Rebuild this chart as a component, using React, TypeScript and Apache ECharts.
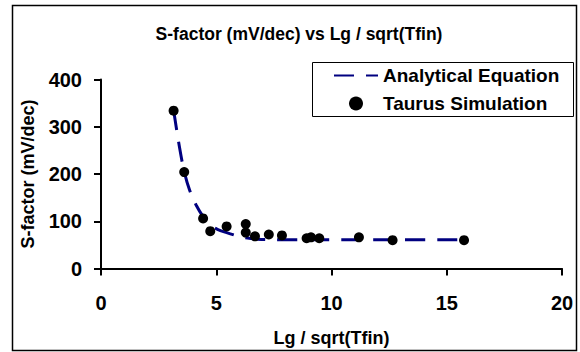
import React, { useEffect, useRef } from "react";
import * as echarts from "echarts";

const titleText = "S-factor (mV/dec) vs Lg / sqrt(Tfin)";
const xName = "Lg / sqrt(Tfin)";
const yName = "S-factor (mV/dec)";
const seriesNames = ["Analytical Equation", "Taurus Simulation"];

// Analytical equation curve
const curveX = [3.15, 3.4, 3.61, 3.85, 4.12, 4.43, 4.74, 5.05, 5.45, 5.85, 6.28, 6.8, 7.5, 9, 11, 13, 15.75];
const curveY = [335, 258, 205, 165, 135, 110, 92, 83, 76, 70, 65, 62, 61, 61, 61, 61, 61];

// Taurus simulation points
const simX = [3.15, 3.61, 4.43, 4.74, 5.45, 6.28, 6.28, 6.68, 7.28, 7.85, 8.92, 9.11, 9.47, 11.19, 12.65, 15.75];
const simY = [334, 204, 106, 79, 89, 94, 76, 68, 72, 70, 64, 66, 64, 66, 60, 60];

const xTicks = { min: 0, max: 20, interval: 5 };
const yTicks = { min: 0, max: 400, interval: 100 };

const FONT = "'Liberation Sans', Arial, sans-serif";

export default function App() {
  const ref = useRef<HTMLDivElement>(null);
  useEffect(() => {
    if (!ref.current) return;
    const chart = echarts.init(ref.current, null, { renderer: "svg" });
    const axisCommon = {
      axisLine: { show: true, onZero: false, lineStyle: { color: "#000", width: 2 } },
      axisTick: { show: true, length: 7, lineStyle: { color: "#000", width: 2 } },
      splitLine: { show: false },
      nameLocation: "middle" as const,
      nameTextStyle: { fontFamily: FONT, fontWeight: "bold" as const, fontSize: 18, color: "#000" },
      axisLabel: { fontFamily: FONT, fontWeight: "bold" as const, fontSize: 20, color: "#000" },
    };
    chart.setOption({
      animation: false,
      backgroundColor: "#fff",
      title: {
        text: titleText,
        left: 294,
        textAlign: "center",
        top: 20,
        textStyle: { fontFamily: FONT, fontWeight: "bold", fontSize: 17.5, color: "#000" },
      },
      graphic: [
        {
          type: "rect",
          shape: { x: 12.5, y: 5.5, width: 564, height: 345 },
          style: { fill: "none", stroke: "#000", lineWidth: 1.5 },
          z: 100,
        },
        {
          type: "rect",
          shape: { x: 312.5, y: 62.5, width: 261, height: 54 },
          style: { fill: "#fff", stroke: "#000", lineWidth: 1 },
          z: 5,
        },
      ],
      legend: {
        orient: "vertical",
        left: 312,
        top: 62,
        padding: [4, 0, 0, 21],
        itemWidth: 44,
        itemHeight: 14,
        itemGap: 9,
        z: 10,
        textStyle: { fontFamily: FONT, fontWeight: "bold", fontSize: 19, color: "#000" },
        data: [
          { name: seriesNames[0], itemStyle: { opacity: 0 } },
          { name: seriesNames[1], icon: "circle" },
        ],
      },
      grid: { left: 101, right: 18, top: 79.5, bottom: 83.5 },
      xAxis: {
        type: "value",
        ...axisCommon,
        min: xTicks.min,
        max: xTicks.max,
        interval: xTicks.interval,
        name: xName,
        nameGap: 60,
        axisLabel: { ...axisCommon.axisLabel, margin: 24 },
      },
      yAxis: {
        type: "value",
        ...axisCommon,
        min: yTicks.min,
        max: yTicks.max,
        interval: yTicks.interval,
        name: yName,
        nameGap: 64,
        axisLabel: { ...axisCommon.axisLabel, margin: 19 },
      },
      series: [
        {
          name: seriesNames[0],
          type: "line",
          data: curveX.map((x, i) => [x, curveY[i]]),
          smooth: 0.3,
          showSymbol: false,
          symbol: "none",
          lineStyle: { color: "#000080", width: 3, type: [20, 12] },
          itemStyle: { color: "#000080" },
          z: 2,
        },
        {
          name: seriesNames[1],
          type: "scatter",
          data: simX.map((x, i) => [x, simY[i]]),
          symbol: "circle",
          symbolSize: 10,
          itemStyle: { color: "#000", opacity: 1 },
          z: 3,
        },
      ],
    });
    return () => chart.dispose();
  }, []);
  return (
    <div
      ref={ref}
      style={{ position: "fixed", left: 0, top: 0, width: 580, height: 352 }}
    />
  );
}
